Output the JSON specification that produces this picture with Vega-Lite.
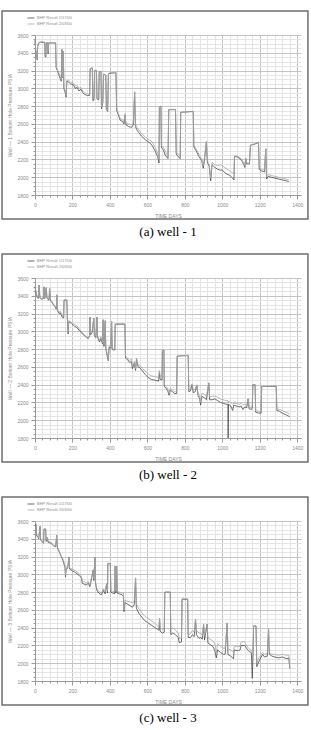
{
  "$schema": "https://vega.github.io/schema/vega-lite/v6.json",
  "padding": {"left": 1, "top": 10, "right": 0, "bottom": 0},
  "background": "white",
  "spacing": 14,
  "resolve": {"legend": {"color": "independent"}},
  "config": {
    "view": {"stroke": null},
    "axis": {"labelFont": "Liberation Sans", "labelFontSize": 5, "labelColor": "#8a8a8a", "titleFont": "Liberation Sans", "titleFontSize": 5, "titleColor": "#8a8a8a", "titleFontWeight": "normal", "domainColor": "#999999", "tickColor": "#999999", "labelOverlap": false, "labelFlush": false, "labelPadding": 3, "tickCount": 100},
    "legend": {"orient": "none", "legendX": -8, "legendY": -21, "title": null, "symbolType": "stroke", "symbolSize": 50, "symbolStrokeWidth": 0.8, "labelFont": "Liberation Sans", "labelFontSize": 4, "labelColor": "#8a8a8a", "rowPadding": 0, "labelOffset": 2, "padding": 0},
    "title": {"font": "Liberation Serif", "fontSize": 13, "fontWeight": "normal", "color": "#000000", "orient": "bottom", "offset": 6}
  },
  "datasets": {
    "w1": [
      {"d":0,"a":3540,"b":3545},{"d":4,"a":3420,"b":3430},{"d":9,"a":3380,"b":3390},{"d":12,"a":3320,"b":3330},{"d":14,"a":3470,"b":3480},{"d":20,"a":3510,"b":3515},{"d":30,"a":3520,"b":3525},{"d":52,"a":3515,"b":3520},{"d":54,"a":3360,"b":3380},{"d":58,"a":3350,"b":3370},{"d":60,"a":3510,"b":3515},{"d":68,"a":3510,"b":3515},{"d":70,"a":3390,"b":3410},{"d":73,"a":3510,"b":3515},{"d":110,"a":3510,"b":3515},{"d":113,"a":3230,"b":3240},{"d":120,"a":3200,"b":3210},{"d":128,"a":3150,"b":3170},{"d":136,"a":3100,"b":3120},{"d":140,"a":3080,"b":3100},{"d":144,"a":3440,"b":3440},{"d":147,"a":3120,"b":3130},{"d":151,"a":3420,"b":3420},{"d":154,"a":3000,"b":3010},{"d":160,"a":2960,"b":2980},{"d":166,"a":2900,"b":2920},{"d":170,"a":3080,"b":3090},{"d":180,"a":3070,"b":3090},{"d":190,"a":3050,"b":3070},{"d":205,"a":3040,"b":3060},{"d":215,"a":3000,"b":3030},{"d":225,"a":3010,"b":3030},{"d":235,"a":2970,"b":3000},{"d":245,"a":2990,"b":3010},{"d":255,"a":2950,"b":2970},{"d":265,"a":2930,"b":2950},{"d":280,"a":2920,"b":2940},{"d":292,"a":2920,"b":2930},{"d":294,"a":3220,"b":3220},{"d":306,"a":3230,"b":3230},{"d":309,"a":2860,"b":2880},{"d":315,"a":2870,"b":2890},{"d":318,"a":3200,"b":3200},{"d":328,"a":3200,"b":3200},{"d":331,"a":2880,"b":2890},{"d":340,"a":2870,"b":2880},{"d":343,"a":3190,"b":3190},{"d":352,"a":3190,"b":3190},{"d":355,"a":2770,"b":2790},{"d":362,"a":2840,"b":2850},{"d":366,"a":3160,"b":3160},{"d":378,"a":3150,"b":3150},{"d":381,"a":2760,"b":2770},{"d":388,"a":2740,"b":2750},{"d":392,"a":3160,"b":3170},{"d":400,"a":3170,"b":3175},{"d":432,"a":3175,"b":3180},{"d":436,"a":2750,"b":2770},{"d":445,"a":2700,"b":2720},{"d":455,"a":2640,"b":2660},{"d":466,"a":2630,"b":2650},{"d":475,"a":2600,"b":2620},{"d":481,"a":2700,"b":2720},{"d":485,"a":2590,"b":2610},{"d":500,"a":2570,"b":2600},{"d":515,"a":2560,"b":2590},{"d":525,"a":2590,"b":2610},{"d":532,"a":2960,"b":2960},{"d":536,"a":2570,"b":2600},{"d":545,"a":2530,"b":2560},{"d":555,"a":2500,"b":2530},{"d":570,"a":2460,"b":2490},{"d":590,"a":2420,"b":2450},{"d":610,"a":2390,"b":2420},{"d":625,"a":2360,"b":2400},{"d":640,"a":2300,"b":2340},{"d":655,"a":2230,"b":2270},{"d":662,"a":2160,"b":2200},{"d":664,"a":2790,"b":2790},{"d":672,"a":2800,"b":2800},{"d":675,"a":2330,"b":2350},{"d":685,"a":2310,"b":2340},{"d":695,"a":2250,"b":2290},{"d":710,"a":2210,"b":2240},{"d":714,"a":2760,"b":2760},{"d":750,"a":2760,"b":2765},{"d":754,"a":2260,"b":2280},{"d":765,"a":2230,"b":2260},{"d":775,"a":2210,"b":2240},{"d":778,"a":2730,"b":2730},{"d":845,"a":2740,"b":2740},{"d":848,"a":2340,"b":2360},{"d":860,"a":2300,"b":2320},{"d":875,"a":2230,"b":2260},{"d":890,"a":2190,"b":2210},{"d":898,"a":2100,"b":2130},{"d":905,"a":2200,"b":2230},{"d":915,"a":2400,"b":2400},{"d":920,"a":2170,"b":2190},{"d":930,"a":2120,"b":2140},{"d":938,"a":1960,"b":1990},{"d":945,"a":2140,"b":2170},{"d":960,"a":2110,"b":2140},{"d":975,"a":2090,"b":2130},{"d":990,"a":2080,"b":2140},{"d":1000,"a":2080,"b":2130},{"d":1020,"a":2040,"b":2100},{"d":1040,"a":2020,"b":2070},{"d":1055,"a":1990,"b":2050},{"d":1062,"a":1970,"b":2040},{"d":1065,"a":2230,"b":2240},{"d":1080,"a":2230,"b":2240},{"d":1100,"a":2200,"b":2210},{"d":1115,"a":2140,"b":2160},{"d":1120,"a":2110,"b":2130},{"d":1125,"a":2210,"b":2220},{"d":1130,"a":2150,"b":2160},{"d":1145,"a":2150,"b":2160},{"d":1150,"a":2360,"b":2360},{"d":1170,"a":2370,"b":2375},{"d":1193,"a":2390,"b":2395},{"d":1197,"a":2090,"b":2110},{"d":1210,"a":2070,"b":2090},{"d":1225,"a":2060,"b":2080},{"d":1232,"a":2320,"b":2320},{"d":1236,"a":1980,"b":2000},{"d":1245,"a":2010,"b":2030},{"d":1260,"a":2000,"b":2020},{"d":1280,"a":1990,"b":2010},{"d":1300,"a":1980,"b":2000},{"d":1320,"a":1970,"b":1990},{"d":1340,"a":1960,"b":1980},{"d":1355,"a":1950,"b":1970}
    ],
    "w2": [
      {"d":0,"a":3500,"b":3510},{"d":5,"a":3440,"b":3450},{"d":12,"a":3380,"b":3390},{"d":18,"a":3370,"b":3380},{"d":22,"a":3520,"b":3520},{"d":26,"a":3380,"b":3390},{"d":35,"a":3360,"b":3370},{"d":45,"a":3370,"b":3380},{"d":48,"a":3500,"b":3500},{"d":52,"a":3370,"b":3380},{"d":60,"a":3490,"b":3490},{"d":64,"a":3370,"b":3380},{"d":75,"a":3350,"b":3360},{"d":78,"a":3480,"b":3480},{"d":82,"a":3350,"b":3360},{"d":95,"a":3310,"b":3320},{"d":105,"a":3280,"b":3290},{"d":114,"a":3250,"b":3260},{"d":116,"a":3410,"b":3410},{"d":119,"a":3240,"b":3250},{"d":128,"a":3200,"b":3210},{"d":135,"a":3210,"b":3230},{"d":145,"a":3160,"b":3180},{"d":153,"a":3150,"b":3170},{"d":155,"a":3350,"b":3355},{"d":170,"a":3350,"b":3355},{"d":173,"a":3130,"b":3140},{"d":177,"a":2970,"b":2990},{"d":180,"a":3110,"b":3120},{"d":195,"a":3090,"b":3100},{"d":210,"a":3060,"b":3080},{"d":225,"a":3040,"b":3060},{"d":240,"a":3000,"b":3020},{"d":255,"a":2970,"b":2980},{"d":270,"a":2940,"b":2950},{"d":285,"a":2920,"b":2930},{"d":292,"a":2950,"b":2960},{"d":294,"a":3160,"b":3160},{"d":297,"a":2960,"b":2970},{"d":305,"a":2990,"b":3000},{"d":314,"a":3150,"b":3150},{"d":317,"a":2950,"b":2960},{"d":325,"a":2930,"b":2950},{"d":331,"a":3160,"b":3160},{"d":334,"a":2930,"b":2950},{"d":345,"a":2880,"b":2900},{"d":352,"a":2920,"b":2940},{"d":360,"a":2860,"b":2870},{"d":364,"a":3130,"b":3130},{"d":368,"a":2830,"b":2850},{"d":375,"a":3120,"b":3120},{"d":378,"a":2800,"b":2820},{"d":386,"a":2720,"b":2740},{"d":391,"a":2670,"b":2680},{"d":396,"a":2820,"b":2840},{"d":405,"a":2810,"b":2820},{"d":409,"a":3110,"b":3110},{"d":412,"a":2800,"b":2810},{"d":420,"a":2790,"b":2800},{"d":426,"a":2790,"b":2800},{"d":428,"a":3080,"b":3085},{"d":480,"a":3080,"b":3085},{"d":483,"a":2700,"b":2720},{"d":495,"a":2680,"b":2700},{"d":505,"a":2650,"b":2670},{"d":515,"a":2660,"b":2690},{"d":520,"a":2580,"b":2600},{"d":530,"a":2640,"b":2660},{"d":537,"a":2560,"b":2580},{"d":542,"a":2690,"b":2700},{"d":550,"a":2600,"b":2620},{"d":560,"a":2590,"b":2620},{"d":575,"a":2550,"b":2580},{"d":590,"a":2510,"b":2550},{"d":605,"a":2480,"b":2520},{"d":620,"a":2460,"b":2500},{"d":640,"a":2450,"b":2490},{"d":660,"a":2440,"b":2480},{"d":664,"a":2540,"b":2560},{"d":668,"a":2460,"b":2500},{"d":678,"a":2450,"b":2490},{"d":680,"a":2780,"b":2790},{"d":688,"a":2790,"b":2790},{"d":690,"a":2380,"b":2400},{"d":700,"a":2360,"b":2380},{"d":710,"a":2320,"b":2350},{"d":716,"a":2280,"b":2300},{"d":722,"a":2340,"b":2360},{"d":735,"a":2320,"b":2340},{"d":745,"a":2300,"b":2320},{"d":756,"a":2300,"b":2320},{"d":759,"a":2720,"b":2720},{"d":818,"a":2730,"b":2730},{"d":821,"a":2320,"b":2340},{"d":830,"a":2330,"b":2360},{"d":838,"a":2400,"b":2410},{"d":845,"a":2310,"b":2340},{"d":855,"a":2320,"b":2350},{"d":864,"a":2390,"b":2400},{"d":870,"a":2280,"b":2310},{"d":878,"a":2250,"b":2280},{"d":884,"a":2170,"b":2200},{"d":890,"a":2270,"b":2300},{"d":905,"a":2250,"b":2290},{"d":915,"a":2230,"b":2270},{"d":928,"a":2420,"b":2420},{"d":932,"a":2230,"b":2260},{"d":945,"a":2230,"b":2270},{"d":960,"a":2240,"b":2270},{"d":975,"a":2220,"b":2260},{"d":990,"a":2200,"b":2240},{"d":1005,"a":2190,"b":2230},{"d":1020,"a":2180,"b":2220},{"d":1030,"a":2180,"b":2220},{"d":1031,"a":1800,"b":2200},{"d":1033,"a":2180,"b":2210},{"d":1045,"a":2160,"b":2200},{"d":1055,"a":2110,"b":2180},{"d":1061,"a":2170,"b":2190},{"d":1075,"a":2160,"b":2190},{"d":1090,"a":2150,"b":2180},{"d":1100,"a":2160,"b":2190},{"d":1110,"a":2120,"b":2170},{"d":1120,"a":2150,"b":2180},{"d":1130,"a":2140,"b":2170},{"d":1138,"a":2240,"b":2240},{"d":1143,"a":2130,"b":2150},{"d":1155,"a":2120,"b":2140},{"d":1160,"a":2140,"b":2160},{"d":1163,"a":2400,"b":2400},{"d":1175,"a":2400,"b":2400},{"d":1178,"a":2090,"b":2110},{"d":1195,"a":2080,"b":2100},{"d":1207,"a":2080,"b":2100},{"d":1210,"a":2380,"b":2380},{"d":1288,"a":2380,"b":2385},{"d":1291,"a":2110,"b":2130},{"d":1305,"a":2100,"b":2120},{"d":1320,"a":2080,"b":2110},{"d":1340,"a":2060,"b":2090},{"d":1360,"a":2040,"b":2070}
    ],
    "w3": [
      {"d":0,"a":3560,"b":3570},{"d":6,"a":3560,"b":3570},{"d":9,"a":3430,"b":3440},{"d":16,"a":3420,"b":3430},{"d":20,"a":3400,"b":3410},{"d":27,"a":3540,"b":3540},{"d":30,"a":3390,"b":3400},{"d":40,"a":3360,"b":3370},{"d":46,"a":3350,"b":3360},{"d":48,"a":3510,"b":3510},{"d":57,"a":3510,"b":3510},{"d":59,"a":3370,"b":3390},{"d":64,"a":3380,"b":3390},{"d":66,"a":3420,"b":3420},{"d":70,"a":3360,"b":3370},{"d":85,"a":3350,"b":3360},{"d":100,"a":3320,"b":3330},{"d":110,"a":3310,"b":3320},{"d":116,"a":3440,"b":3440},{"d":119,"a":3300,"b":3310},{"d":130,"a":3250,"b":3260},{"d":140,"a":3200,"b":3210},{"d":150,"a":3150,"b":3170},{"d":160,"a":3080,"b":3100},{"d":163,"a":2970,"b":2990},{"d":166,"a":3060,"b":3080},{"d":175,"a":3070,"b":3090},{"d":181,"a":3190,"b":3190},{"d":185,"a":3060,"b":3070},{"d":200,"a":3040,"b":3060},{"d":215,"a":3020,"b":3040},{"d":235,"a":2990,"b":3010},{"d":248,"a":2960,"b":2980},{"d":252,"a":2900,"b":2920},{"d":262,"a":2890,"b":2920},{"d":272,"a":2880,"b":2900},{"d":285,"a":2900,"b":2920},{"d":293,"a":2860,"b":2880},{"d":300,"a":2930,"b":2950},{"d":311,"a":3050,"b":3050},{"d":314,"a":2930,"b":2950},{"d":320,"a":3190,"b":3190},{"d":323,"a":2900,"b":2920},{"d":330,"a":2820,"b":2840},{"d":340,"a":2790,"b":2810},{"d":355,"a":2770,"b":2790},{"d":365,"a":2820,"b":2840},{"d":375,"a":2780,"b":2800},{"d":382,"a":2890,"b":2900},{"d":387,"a":2790,"b":2810},{"d":389,"a":3120,"b":3125},{"d":402,"a":3120,"b":3125},{"d":405,"a":2800,"b":2820},{"d":415,"a":2790,"b":2810},{"d":425,"a":2780,"b":2800},{"d":428,"a":3090,"b":3090},{"d":431,"a":2790,"b":2810},{"d":436,"a":3090,"b":3090},{"d":439,"a":2790,"b":2810},{"d":450,"a":2780,"b":2800},{"d":465,"a":2770,"b":2790},{"d":472,"a":2750,"b":2790},{"d":475,"a":2580,"b":2600},{"d":480,"a":2680,"b":2710},{"d":490,"a":2670,"b":2700},{"d":505,"a":2650,"b":2690},{"d":520,"a":2630,"b":2680},{"d":530,"a":2660,"b":2700},{"d":537,"a":2960,"b":2960},{"d":541,"a":2620,"b":2670},{"d":555,"a":2560,"b":2610},{"d":570,"a":2520,"b":2570},{"d":585,"a":2480,"b":2530},{"d":600,"a":2460,"b":2510},{"d":620,"a":2430,"b":2480},{"d":640,"a":2400,"b":2450},{"d":655,"a":2380,"b":2420},{"d":662,"a":2370,"b":2410},{"d":665,"a":2500,"b":2510},{"d":668,"a":2360,"b":2400},{"d":680,"a":2340,"b":2380},{"d":690,"a":2350,"b":2390},{"d":693,"a":2800,"b":2800},{"d":722,"a":2800,"b":2800},{"d":725,"a":2320,"b":2380},{"d":735,"a":2340,"b":2400},{"d":750,"a":2320,"b":2370},{"d":765,"a":2290,"b":2340},{"d":770,"a":2230,"b":2280},{"d":782,"a":2240,"b":2280},{"d":785,"a":2720,"b":2725},{"d":815,"a":2720,"b":2725},{"d":818,"a":2290,"b":2320},{"d":830,"a":2290,"b":2330},{"d":840,"a":2320,"b":2370},{"d":850,"a":2300,"b":2350},{"d":857,"a":2490,"b":2490},{"d":862,"a":2320,"b":2370},{"d":875,"a":2280,"b":2340},{"d":885,"a":2290,"b":2340},{"d":893,"a":2270,"b":2310},{"d":900,"a":2440,"b":2440},{"d":905,"a":2260,"b":2310},{"d":919,"a":2440,"b":2440},{"d":923,"a":2230,"b":2290},{"d":935,"a":2210,"b":2270},{"d":950,"a":2190,"b":2250},{"d":960,"a":2140,"b":2220},{"d":968,"a":2060,"b":2120},{"d":975,"a":2150,"b":2220},{"d":990,"a":2120,"b":2190},{"d":1005,"a":2100,"b":2170},{"d":1015,"a":2100,"b":2170},{"d":1026,"a":2450,"b":2450},{"d":1030,"a":2100,"b":2160},{"d":1045,"a":2080,"b":2150},{"d":1060,"a":2050,"b":2120},{"d":1063,"a":2150,"b":2190},{"d":1080,"a":2140,"b":2190},{"d":1095,"a":2150,"b":2190},{"d":1100,"a":2200,"b":2240},{"d":1120,"a":2200,"b":2240},{"d":1135,"a":2150,"b":2180},{"d":1145,"a":2130,"b":2160},{"d":1155,"a":2120,"b":2150},{"d":1160,"a":1830,"b":2120},{"d":1164,"a":2100,"b":2130},{"d":1167,"a":2420,"b":2420},{"d":1180,"a":2420,"b":2420},{"d":1184,"a":1960,"b":2000},{"d":1195,"a":2020,"b":2060},{"d":1205,"a":2060,"b":2090},{"d":1215,"a":2100,"b":2120},{"d":1225,"a":2070,"b":2100},{"d":1240,"a":2080,"b":2110},{"d":1247,"a":2380,"b":2380},{"d":1251,"a":2100,"b":2120},{"d":1265,"a":2080,"b":2100},{"d":1280,"a":2070,"b":2100},{"d":1300,"a":2060,"b":2090},{"d":1320,"a":2070,"b":2100},{"d":1345,"a":2050,"b":2090},{"d":1355,"a":2060,"b":2090},{"d":1360,"a":1940,"b":1950}
    ]
  },
  "vconcat": [
    {
      "width": 266, "height": 160,
      "title": {"text": "(a)  well  -  1"},
      "layer": [
        {
          "data": {"name": "w1"},
          "transform": [{"fold": ["a", "b"], "as": ["s", "p"]}],
          "mark": {"type": "line", "strokeWidth": 0.8},
          "encoding": {
            "x": {"field": "d", "type": "quantitative", "scale": {"domain": [0, 1420], "nice": false, "zero": false},
              "axis": {"title": "TIME   DAYS", "titlePadding": 6, "tickCount": 100, "labelOverlap": false, "values": [0,40,80,120,160,200,240,280,320,360,400,440,480,520,560,600,640,680,720,760,800,840,880,920,960,1000,1040,1080,1120,1160,1200,1240,1280,1320,1360,1400], "labelExpr": "datum.value % 200 === 0 ? datum.label : ''", "format": "d", "gridColor": {"condition": {"test": "datum.value % 200 === 0", "value": "#c4c4c4"}, "value": "#e4e4e4"}, "tickSize": {"condition": {"test": "datum.value % 200 === 0", "value": 4}, "value": 2}}},
            "y": {"field": "p", "type": "quantitative", "scale": {"domain": [1800, 3600], "nice": false, "zero": false},
              "axis": {"title": "Well  —  1 Bottom Hole Pressure PSIA", "titlePadding": 4, "tickCount": 100, "labelOverlap": false, "values": [1800,1850,1900,1950,2000,2050,2100,2150,2200,2250,2300,2350,2400,2450,2500,2550,2600,2650,2700,2750,2800,2850,2900,2950,3000,3050,3100,3150,3200,3250,3300,3350,3400,3450,3500,3550,3600], "labelExpr": "datum.value % 200 === 0 ? datum.label : ''", "format": "d", "gridColor": {"condition": {"test": "datum.value % 200 === 0", "value": "#c4c4c4"}, "value": "#e4e4e4"}, "tickSize": {"condition": {"test": "datum.value % 200 === 0", "value": 4}, "value": 2}}},
            "color": {"field": "s", "type": "nominal", "scale": {"domain": ["a", "b"], "range": ["#4a4a4a", "#a8a8a8"]},
              "legend": {"labelExpr": "datum.value == 'a' ? 'BHP Result 1/17/00' : 'BHP Result 2/03/00'"}}
          }
        },
        {
          "data": {"values": [{}]},
          "mark": {"type": "rect", "filled": false, "stroke": "#6e6e6e", "strokeWidth": 1.5},
          "encoding": {
            "x": {"datum": -176, "type": "quantitative", "scale": {"domain": [0, 1420], "nice": false, "zero": false}},
            "x2": {"datum": 1457},
            "y": {"datum": 3870, "type": "quantitative", "scale": {"domain": [1800, 3600], "nice": false, "zero": false}},
            "y2": {"datum": 1530}
          }
        }
      ]
    },
    {
      "width": 266, "height": 160,
      "title": {"text": "(b)  well  -  2"},
      "layer": [
        {
          "data": {"name": "w2"},
          "transform": [{"fold": ["a", "b"], "as": ["s", "p"]}],
          "mark": {"type": "line", "strokeWidth": 0.8},
          "encoding": {
            "x": {"field": "d", "type": "quantitative", "scale": {"domain": [0, 1420], "nice": false, "zero": false},
              "axis": {"title": "TIME   DAYS", "titlePadding": 6, "tickCount": 100, "labelOverlap": false, "values": [0,40,80,120,160,200,240,280,320,360,400,440,480,520,560,600,640,680,720,760,800,840,880,920,960,1000,1040,1080,1120,1160,1200,1240,1280,1320,1360,1400], "labelExpr": "datum.value % 200 === 0 ? datum.label : ''", "format": "d", "gridColor": {"condition": {"test": "datum.value % 200 === 0", "value": "#c4c4c4"}, "value": "#e4e4e4"}, "tickSize": {"condition": {"test": "datum.value % 200 === 0", "value": 4}, "value": 2}}},
            "y": {"field": "p", "type": "quantitative", "scale": {"domain": [1800, 3600], "nice": false, "zero": false},
              "axis": {"title": "Well  —  2 Bottom Hole Pressure PSIA", "titlePadding": 4, "tickCount": 100, "labelOverlap": false, "values": [1800,1850,1900,1950,2000,2050,2100,2150,2200,2250,2300,2350,2400,2450,2500,2550,2600,2650,2700,2750,2800,2850,2900,2950,3000,3050,3100,3150,3200,3250,3300,3350,3400,3450,3500,3550,3600], "labelExpr": "datum.value % 200 === 0 ? datum.label : ''", "format": "d", "gridColor": {"condition": {"test": "datum.value % 200 === 0", "value": "#c4c4c4"}, "value": "#e4e4e4"}, "tickSize": {"condition": {"test": "datum.value % 200 === 0", "value": 4}, "value": 2}}},
            "color": {"field": "s", "type": "nominal", "scale": {"domain": ["a", "b"], "range": ["#4a4a4a", "#a8a8a8"]},
              "legend": {"labelExpr": "datum.value == 'a' ? 'BHP Result 1/17/00' : 'BHP Result 2/03/00'"}}
          }
        },
        {
          "data": {"values": [{}]},
          "mark": {"type": "rect", "filled": false, "stroke": "#6e6e6e", "strokeWidth": 1.5},
          "encoding": {
            "x": {"datum": -176, "type": "quantitative", "scale": {"domain": [0, 1420], "nice": false, "zero": false}},
            "x2": {"datum": 1457},
            "y": {"datum": 3870, "type": "quantitative", "scale": {"domain": [1800, 3600], "nice": false, "zero": false}},
            "y2": {"datum": 1530}
          }
        }
      ]
    },
    {
      "width": 266, "height": 160,
      "title": {"text": "(c)  well  -  3"},
      "layer": [
        {
          "data": {"name": "w3"},
          "transform": [{"fold": ["a", "b"], "as": ["s", "p"]}],
          "mark": {"type": "line", "strokeWidth": 0.8},
          "encoding": {
            "x": {"field": "d", "type": "quantitative", "scale": {"domain": [0, 1420], "nice": false, "zero": false},
              "axis": {"title": "TIME   DAYS", "titlePadding": 6, "tickCount": 100, "labelOverlap": false, "values": [0,40,80,120,160,200,240,280,320,360,400,440,480,520,560,600,640,680,720,760,800,840,880,920,960,1000,1040,1080,1120,1160,1200,1240,1280,1320,1360,1400], "labelExpr": "datum.value % 200 === 0 ? datum.label : ''", "format": "d", "gridColor": {"condition": {"test": "datum.value % 200 === 0", "value": "#c4c4c4"}, "value": "#e4e4e4"}, "tickSize": {"condition": {"test": "datum.value % 200 === 0", "value": 4}, "value": 2}}},
            "y": {"field": "p", "type": "quantitative", "scale": {"domain": [1800, 3600], "nice": false, "zero": false},
              "axis": {"title": "Well  —  3 Bottom Hole Pressure PSIA", "titlePadding": 4, "tickCount": 100, "labelOverlap": false, "values": [1800,1850,1900,1950,2000,2050,2100,2150,2200,2250,2300,2350,2400,2450,2500,2550,2600,2650,2700,2750,2800,2850,2900,2950,3000,3050,3100,3150,3200,3250,3300,3350,3400,3450,3500,3550,3600], "labelExpr": "datum.value % 200 === 0 ? datum.label : ''", "format": "d", "gridColor": {"condition": {"test": "datum.value % 200 === 0", "value": "#c4c4c4"}, "value": "#e4e4e4"}, "tickSize": {"condition": {"test": "datum.value % 200 === 0", "value": 4}, "value": 2}}},
            "color": {"field": "s", "type": "nominal", "scale": {"domain": ["a", "b"], "range": ["#4a4a4a", "#a8a8a8"]},
              "legend": {"labelExpr": "datum.value == 'a' ? 'BHP Result 1/17/00' : 'BHP Result 2/03/00'"}}
          }
        },
        {
          "data": {"values": [{}]},
          "mark": {"type": "rect", "filled": false, "stroke": "#6e6e6e", "strokeWidth": 1.5},
          "encoding": {
            "x": {"datum": -176, "type": "quantitative", "scale": {"domain": [0, 1420], "nice": false, "zero": false}},
            "x2": {"datum": 1457},
            "y": {"datum": 3870, "type": "quantitative", "scale": {"domain": [1800, 3600], "nice": false, "zero": false}},
            "y2": {"datum": 1530}
          }
        }
      ]
    }
  ]
}
